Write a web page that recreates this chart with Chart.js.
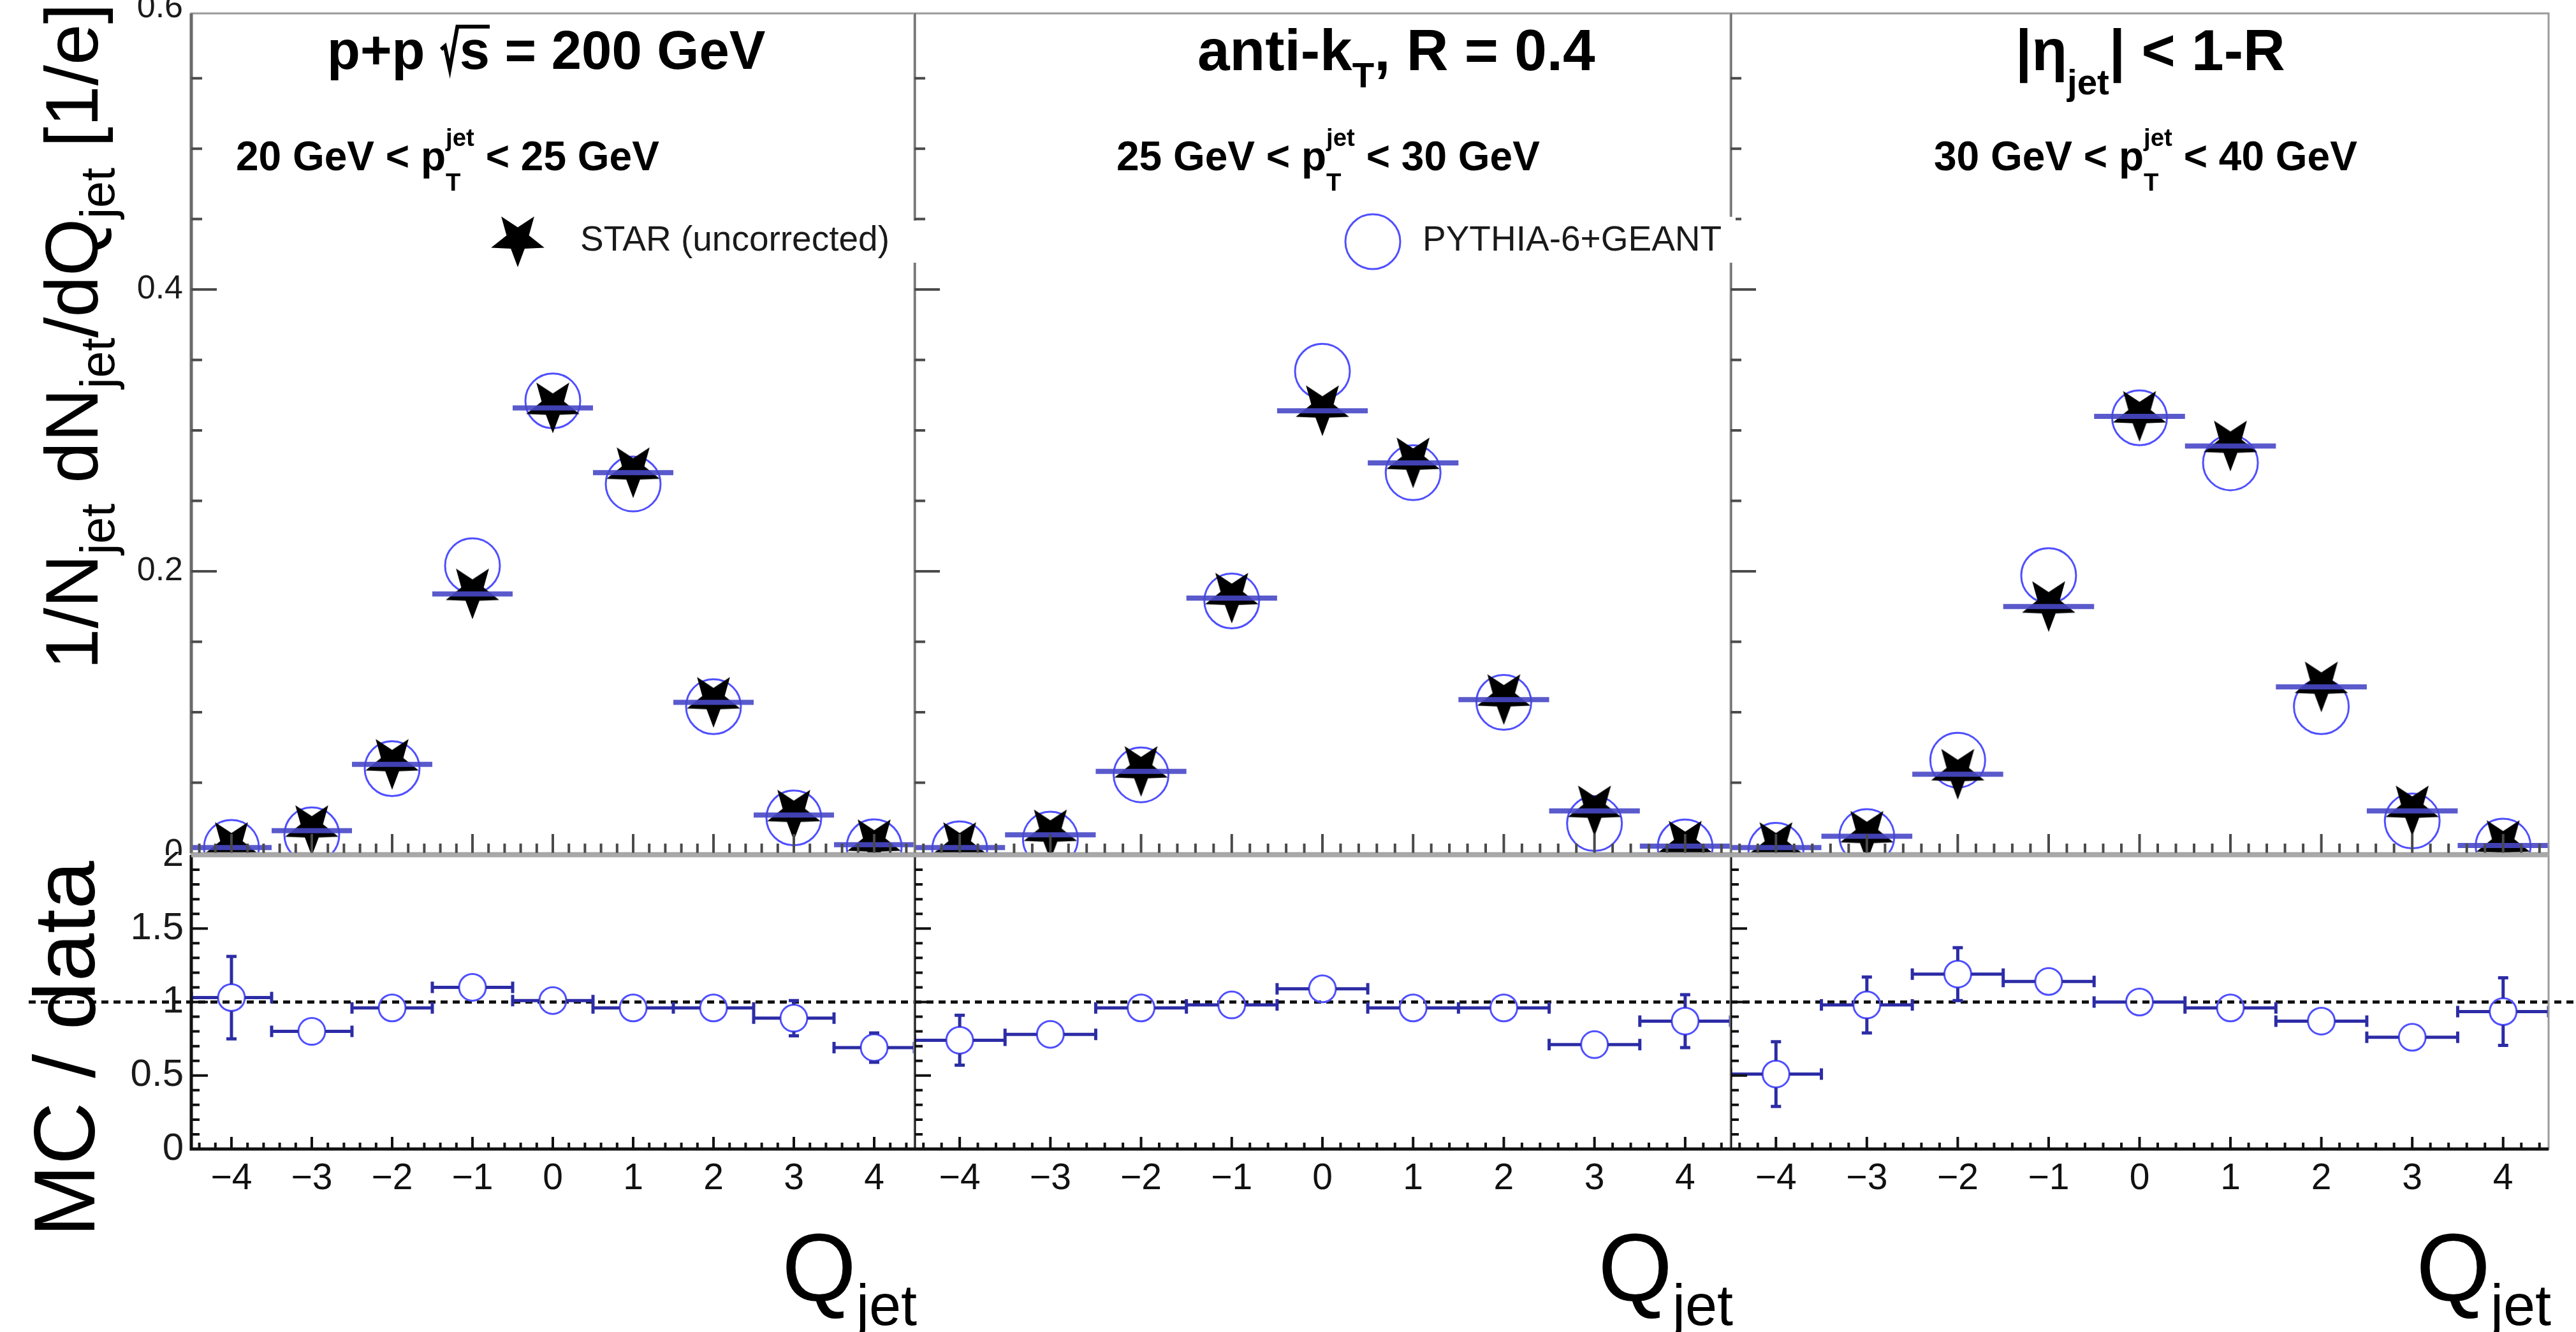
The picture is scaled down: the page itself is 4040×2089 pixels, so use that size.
<!DOCTYPE html>
<html>
<head>
<meta charset="utf-8">
<script src="https://cdn.jsdelivr.net/npm/chart.js@4.4.1/dist/chart.umd.min.js"></script>
<style>
  html, body { margin: 0; padding: 0; background: #fff; }
  body { width: 4040px; height: 2089px; position: relative; overflow: hidden; }
  canvas { position: absolute; }
</style>
</head>
<body>
<script>
const qBins = [-4, -3, -2, -1, 0, 1, 2, 3, 4];

// 1/N dN/dQ, STAR data (uncorrected)
const starPt20 = [0.004, 0.016, 0.063, 0.184, 0.316, 0.270, 0.107, 0.027, 0.006];
const starPt25 = [0.004, 0.013, 0.058, 0.181, 0.314, 0.277, 0.109, 0.030, 0.005];
const starPt30 = [0.004, 0.012, 0.056, 0.175, 0.310, 0.289, 0.118, 0.030, 0.0054];

// PYTHIA-6 + GEANT
const mcPt20 = [0.0041, 0.013, 0.060, 0.204, 0.321, 0.262, 0.104, 0.025, 0.0045];
const mcPt25 = [0.003, 0.010, 0.0556, 0.179, 0.342, 0.270, 0.107, 0.021, 0.0044];
const mcPt30 = [0.002, 0.0118, 0.066, 0.197, 0.309, 0.277, 0.104, 0.0228, 0.005];

// MC / data
const ratioPt20 = [1.03, 0.80, 0.96, 1.10, 1.01, 0.96, 0.96, 0.89, 0.69];
const ratioPt25 = [0.74, 0.78, 0.96, 0.98, 1.09, 0.96, 0.96, 0.71, 0.87];
const ratioPt30 = [0.51, 0.98, 1.19, 1.14, 1.00, 0.96, 0.87, 0.76, 0.935];
const ratioErrPt20 = [0.28, 0.03, 0.02, 0.02, 0.01, 0.01, 0.02, 0.12, 0.10];
const ratioErrPt25 = [0.17, 0.05, 0.02, 0.02, 0.01, 0.02, 0.03, 0.06, 0.18];
const ratioErrPt30 = [0.22, 0.19, 0.18, 0.05, 0.02, 0.02, 0.04, 0.06, 0.23];

const ptRanges = [[20, 25], [25, 30], [30, 40]];
const upperYTicks = [0, 0.2, 0.4, 0.6];
const lowerYTicks = [0, 0.5, 1, 1.5, 2];
const dataLabel = 'STAR (uncorrected)';
const mcLabel = 'PYTHIA-6+GEANT';

const FONT = '"Liberation Sans", Arial, Helvetica, sans-serif';
const BLUE = '#4f4fff';
const BAR_BLUE = 'rgba(72, 72, 200, 0.9)';
const NAVY = '#2c2ca6';

Chart.defaults.font.family = FONT;

// pad geometry (page pixels)
const columns = [
  { canvasL: 0, canvasR: 1434, frameL: 300, frameR: 1434 },
  { canvasL: 1434, canvasR: 2714, frameL: 1434, frameR: 2714 },
  { canvasL: 2714, canvasR: 4040, frameL: 2714, frameR: 3997 },
];
const upperBand = { canvasT: 0, canvasB: 1341, frameT: 21, frameB: 1338 };
const lowerBand = { canvasT: 1336, canvasB: 2089, frameT: 1341, frameB: 1802 };

const panels = [
  { star: starPt20, mc: mcPt20, ratio: ratioPt20, err: ratioErrPt20 },
  { star: starPt25, mc: mcPt25, ratio: ratioPt25, err: ratioErrPt25 },
  { star: starPt30, mc: mcPt30, ratio: ratioPt30, err: ratioErrPt30 },
];

// ---------- markers ----------
function starPath(g, cx, cy, R, r) {
  g.beginPath();
  for (let k = 0; k < 10; k++) {
    const a = Math.PI / 2 + k * Math.PI / 5; // first tip points down
    const rad = k % 2 ? r : R;
    g.lineTo(cx + rad * Math.cos(a), cy + rad * Math.sin(a));
  }
  g.closePath();
}

function makeStar(R) {
  const c = document.createElement('canvas');
  const size = Math.ceil(2 * R + 4);
  c.width = c.height = size;
  const g = c.getContext('2d');
  starPath(g, size / 2, size / 2 - 0.095 * R, R, 0.42 * R);
  g.fillStyle = '#000';
  g.fill();
  return c;
}
const starImg = makeStar(44);

// ---------- text with sub/superscripts ----------
function setFont(ctx, size, weight) {
  ctx.font = `${weight} ${size}px ${FONT}`;
}

// radical sign drawn as strokes, with the bar running over the argument
function drawRadical(ctx, x, y, size, argWidth) {
  ctx.save();
  ctx.strokeStyle = ctx.fillStyle;
  ctx.lineWidth = size * 0.07;
  ctx.lineJoin = 'miter';
  ctx.beginPath();
  ctx.moveTo(x + 0.02 * size, y - 0.36 * size);
  ctx.lineTo(x + 0.09 * size, y - 0.42 * size);
  ctx.lineTo(x + 0.18 * size, y);
  ctx.lineTo(x + 0.32 * size, y - 0.78 * size);
  ctx.lineTo(x + 0.36 * size + argWidth, y - 0.78 * size);
  ctx.stroke();
  ctx.restore();
}

function drawRich(ctx, parts, x, y, size, weight, dryRun) {
  let cx = x;
  for (const p of parts) {
    if (typeof p === 'string') {
      setFont(ctx, size, weight);
      if (!dryRun) ctx.fillText(p, cx, y);
      cx += ctx.measureText(p).width;
    } else if (p.sqrt) {
      setFont(ctx, size, weight);
      const rw = 0.36 * size;
      const sw = ctx.measureText(p.sqrt).width;
      if (!dryRun) {
        drawRadical(ctx, cx, y, size, sw);
        ctx.fillText(p.sqrt, cx + rw, y);
      }
      cx += rw + sw;
    } else {
      const s = size * (p.scale || 0.62);
      setFont(ctx, s, weight);
      let w = 0;
      if (p.sub) {
        if (!dryRun) ctx.fillText(p.sub, cx, y + size * (p.dy || 0.3));
        w = Math.max(w, ctx.measureText(p.sub).width);
      }
      if (p.sup) {
        if (!dryRun) ctx.fillText(p.sup, cx, y - size * (p.uy || 0.45));
        w = Math.max(w, ctx.measureText(p.sup).width);
      }
      cx += w;
    }
  }
  return cx - x;
}

const titleTexts = [
  { x: 513, y: 108, size: 85, parts: ['p+p ', { sqrt: 's' }, ' = 200 GeV'] },
  { x: 1878, y: 110, size: 91, parts: ['anti-k', { sub: 'T', dy: 0.3 }, ', R = 0.4'] },
  { x: 3161, y: 110, size: 91, parts: ['|\u03B7', { sub: 'jet', dy: 0.42 }, '| < 1-R'] },
];
const subtitleX = [370, 1751, 3033];

const legendEntries = [
  { box: [760, 346, 1440, 412], marker: 'star', mx: 812, my: 379, text: dataLabel, tx: 910 },
  { box: [2100, 340, 2722, 412], marker: 'circle', mx: 2153, my: 379, text: mcLabel, tx: 2231 },
];

function drawAnnotations(ctx) {
  ctx.textAlign = 'left';
  ctx.textBaseline = 'alphabetic';
  ctx.fillStyle = '#000';

  titleTexts.forEach(t => drawRich(ctx, t.parts, t.x, t.y, t.size, 'bold'));

  ptRanges.forEach(([lo, hi], i) => {
    drawRich(ctx, [`${lo} GeV < p`, { sub: 'T', sup: 'jet', dy: 0.5, uy: 0.6, scale: 0.6 }, ` < ${hi} GeV`],
      subtitleX[i], 267, 64, 'bold');
  });

  legendEntries.forEach(e => {
    ctx.fillStyle = '#fff';
    ctx.fillRect(e.box[0], e.box[1], e.box[2] - e.box[0], e.box[3] - e.box[1]);
    if (e.marker === 'star') {
      starPath(ctx, e.mx, e.my - 4, 44, 0.42 * 44);
      ctx.fillStyle = '#000';
      ctx.fill();
    } else {
      ctx.beginPath();
      ctx.arc(e.mx, e.my, 43, 0, Math.PI * 2);
      ctx.strokeStyle = BLUE;
      ctx.lineWidth = 3;
      ctx.stroke();
    }
    ctx.fillStyle = '#1a1a1a';
    setFont(ctx, 55, 'normal');
    ctx.fillText(e.text, e.tx, 393);
  });

  ctx.fillStyle = '#000';
  // y titles
  ctx.save();
  ctx.translate(153, 1050);
  ctx.rotate(-Math.PI / 2);
  const jet = { sub: 'jet', dy: 0.22, scale: 0.65 };
  drawRich(ctx, ['1/N', jet, ' dN', jet, '/dQ', jet, ' [1/e]'], 0, 0, 116, 'normal');
  ctx.restore();

  ctx.save();
  ctx.translate(148, 1940);
  ctx.rotate(-Math.PI / 2);
  drawRich(ctx, ['MC / data'], 0, 0, 136, 'normal');
  ctx.restore();

  // x titles, right aligned to each frame
  const qParts = ['Q', { sub: 'jet', dy: 0.25, scale: 0.6 }];
  columns.forEach(col => {
    const w = drawRich(ctx, qParts, 0, 0, 150, 'normal', true);
    drawRich(ctx, qParts, col.frameR + 4 - w, 2040, 150, 'normal');
  });
}

// ---------- frame, ticks, error bars ----------
function clipArea(ctx, a) {
  ctx.beginPath();
  ctx.rect(a.left, a.top, a.right - a.left, a.bottom - a.top);
  ctx.clip();
}

function drawDataBars(chart, values) {
  const { ctx, chartArea: a, scales: { x, y } } = chart;
  ctx.save();
  clipArea(ctx, a);
  ctx.strokeStyle = BAR_BLUE;
  ctx.lineWidth = 8;
  ctx.beginPath();
  qBins.forEach((q, i) => {
    const py = y.getPixelForValue(values[i]);
    ctx.moveTo(x.getPixelForValue(q - 0.5), py);
    ctx.lineTo(x.getPixelForValue(q + 0.5), py);
  });
  ctx.stroke();
  ctx.restore();
}

function drawRatioBars(chart, values, errors) {
  const { ctx, chartArea: a, scales: { x, y } } = chart;
  const r = 21;
  const unit = y.getPixelForValue(0) - y.getPixelForValue(1);
  ctx.save();
  clipArea(ctx, a);
  ctx.strokeStyle = NAVY;
  ctx.lineWidth = 5;
  ctx.beginPath();
  qBins.forEach((q, i) => {
    const px = x.getPixelForValue(q);
    const py = y.getPixelForValue(values[i]);
    const xl = x.getPixelForValue(q - 0.5);
    const xr = x.getPixelForValue(q + 0.5);
    ctx.moveTo(xl, py); ctx.lineTo(px - r, py);
    ctx.moveTo(px + r, py); ctx.lineTo(xr, py);
    ctx.moveTo(xl, py - 9); ctx.lineTo(xl, py + 9);
    ctx.moveTo(xr, py - 9); ctx.lineTo(xr, py + 9);
    const ey = errors[i] * unit;
    if (ey > r) {
      ctx.moveTo(px, py - r); ctx.lineTo(px, py - ey);
      ctx.moveTo(px, py + r); ctx.lineTo(px, py + ey);
      ctx.moveTo(px - 8, py - ey); ctx.lineTo(px + 8, py - ey);
      ctx.moveTo(px - 8, py + ey); ctx.lineTo(px + 8, py + ey);
    }
  });
  ctx.stroke();
  ctx.restore();
}

function drawUnityLine(chart, cfg) {
  const { ctx, scales: { y } } = chart;
  const py = y.getPixelForValue(1);
  ctx.save();
  ctx.strokeStyle = '#111';
  ctx.lineWidth = 5;
  ctx.setLineDash([11, 8]);
  ctx.beginPath();
  ctx.moveTo(cfg.unityFrom - cfg.canvasL, py);
  ctx.lineTo(cfg.unityTo - cfg.canvasL, py);
  ctx.stroke();
  ctx.restore();
}

function drawTicks(ctx, a, x, y, s) {
  ctx.beginPath();
  for (let k = 1; k * s.yMinor <= y.max + 1e-9; k++) {
    const py = y.getPixelForValue(k * s.yMinor);
    const len = k % s.yEvery === 0 ? s.yMajorLen : s.yMinorLen;
    ctx.moveTo(a.left, py); ctx.lineTo(a.left + len, py);
  }
  for (let k = -22; k <= 22; k++) {
    const px = x.getPixelForValue(k * 0.2);
    const len = k % 5 === 0 ? s.xMajorLen : s.xMinorLen;
    ctx.moveTo(px, a.bottom); ctx.lineTo(px, a.bottom - len);
  }
  ctx.stroke();
}

function drawUpperFrame(chart) {
  const { ctx, chartArea: a, scales: { x, y } } = chart;
  ctx.save();
  ctx.strokeStyle = '#9a9a9a';
  ctx.lineWidth = 3;
  ctx.strokeRect(a.left, a.top, a.right - a.left, a.bottom - a.top);
  ctx.strokeStyle = '#6a6a6a';
  ctx.lineWidth = 5;
  ctx.beginPath();
  ctx.moveTo(a.left, a.top); ctx.lineTo(a.left, a.bottom);
  ctx.stroke();
  ctx.strokeStyle = '#4a4a4a';
  ctx.lineWidth = 4;
  drawTicks(ctx, a, x, y, { yMinor: 0.05, yEvery: 4, yMajorLen: 40, yMinorLen: 17, xMajorLen: 30, xMinorLen: 15 });
  ctx.restore();
}

function drawLowerFrame(chart) {
  const { ctx, chartArea: a, scales: { x, y } } = chart;
  ctx.save();
  ctx.strokeStyle = '#9a9a9a';
  ctx.lineWidth = 3;
  ctx.strokeRect(a.left, a.top, a.right - a.left, a.bottom - a.top);
  ctx.strokeStyle = '#111';
  ctx.lineWidth = 5;
  ctx.beginPath();
  ctx.moveTo(a.left, a.top); ctx.lineTo(a.left, a.bottom); ctx.lineTo(a.right, a.bottom);
  ctx.stroke();
  ctx.lineWidth = 4;
  drawTicks(ctx, a, x, y, { yMinor: 0.1, yEvery: 5, yMajorLen: 26, yMinorLen: 13, xMajorLen: 19, xMinorLen: 10 });
  // pad border between the two rows
  ctx.strokeStyle = '#a8a8a8';
  ctx.lineWidth = 7;
  ctx.beginPath();
  ctx.moveTo(a.left, a.top); ctx.lineTo(a.right, a.top);
  ctx.stroke();
  ctx.restore();
}

function rootPlugin(cfg) {
  return {
    id: 'rootStyle',
    beforeDatasetsDraw(chart) {
      if (!cfg.upper) drawUnityLine(chart, cfg);
    },
    afterDatasetsDraw(chart) {
      if (cfg.upper) {
        drawDataBars(chart, cfg.panel.star);
        drawUpperFrame(chart);
      } else {
        drawRatioBars(chart, cfg.panel.ratio, cfg.panel.err);
        drawLowerFrame(chart);
      }
    },
    afterDraw(chart) {
      const ctx = chart.ctx;
      ctx.save();
      ctx.translate(-cfg.canvasL, -cfg.canvasT);
      drawAnnotations(ctx);
      ctx.restore();
    }
  };
}

const fmtQ = v => (v < 0 ? '\u2212' + Math.abs(v) : String(v));

// fixed axis sizes, no extra room for overhanging labels
const fixSize = (s, key, size) => {
  s[key] = size;
  s.paddingTop = s.paddingBottom = s.paddingLeft = s.paddingRight = 0;
};

function makePad(idx, upper) {
  const col = columns[idx];
  const band = upper ? upperBand : lowerBand;
  const panel = panels[idx];
  const w = col.canvasR - col.canvasL;
  const h = band.canvasB - band.canvasT;

  const canvas = document.createElement('canvas');
  canvas.width = w;
  canvas.height = h;
  canvas.style.left = col.canvasL + 'px';
  canvas.style.top = band.canvasT + 'px';
  canvas.style.width = w + 'px';
  canvas.style.height = h + 'px';
  document.body.appendChild(canvas);

  const showY = idx === 0;
  const showX = !upper;
  const yAxisW = showY ? col.frameL - col.canvasL : 0;
  const xAxisH = showX ? band.canvasB - band.frameB : 0;

  const points = vals => qBins.map((q, i) => ({ x: q, y: vals[i] }));
  const datasets = upper ? [
    { label: dataLabel, data: points(panel.star), pointStyle: starImg, pointRadius: 43, clip: 0 },
    { label: mcLabel, data: points(panel.mc), pointStyle: 'circle', pointRadius: 43,
      pointBorderWidth: 3, pointBorderColor: BLUE, pointBackgroundColor: 'rgba(0,0,0,0)', clip: 0 },
  ] : [
    { label: 'MC / data', data: points(panel.ratio), pointStyle: 'circle', pointRadius: 21,
      pointBorderWidth: 3, pointBorderColor: BLUE, pointBackgroundColor: 'rgba(0,0,0,0)', clip: 0 },
  ];

  const yTicks = upper ? upperYTicks : lowerYTicks;

  new Chart(canvas, {
    type: 'scatter',
    data: { datasets },
    options: {
      responsive: false,
      animation: false,
      devicePixelRatio: 1,
      events: [],
      layout: {
        autoPadding: false,
        padding: {
          left: col.frameL - col.canvasL - yAxisW,
          right: col.canvasR - col.frameR,
          top: band.frameT - band.canvasT,
          bottom: band.canvasB - band.frameB - xAxisH,
        }
      },
      plugins: { legend: { display: false }, tooltip: { enabled: false } },
      scales: {
        x: {
          type: 'linear',
          min: -4.5,
          max: 4.5,
          display: showX,
          afterBuildTicks: s => { s.ticks = qBins.map(v => ({ value: v })); },
          afterFit: s => fixSize(s, 'height', xAxisH),
          grid: { display: false, drawTicks: false },
          border: { display: false },
          ticks: { font: { size: 57 }, color: '#111', padding: 13, maxRotation: 0, autoSkip: false, callback: fmtQ }
        },
        y: {
          type: 'linear',
          min: 0,
          max: upper ? 0.596 : 2,
          display: showY,
          afterBuildTicks: s => { s.ticks = yTicks.map(v => ({ value: v })); },
          afterFit: s => fixSize(s, 'width', yAxisW),
          grid: { display: false, drawTicks: false },
          border: { display: false },
          ticks: {
            font: { size: upper ? 52 : 60 },
            color: '#1a1a1a',
            padding: upper ? 13 : 12,
            callback: v => (upper && v !== 0 ? v.toFixed(1) : String(v))
          }
        }
      }
    },
    plugins: [rootPlugin({
      upper, panel,
      canvasL: col.canvasL, canvasT: band.canvasT,
      unityFrom: idx === 0 ? 45 : col.canvasL,
      unityTo: col.canvasR
    })]
  });
}

[0, 1, 2].forEach(i => makePad(i, true));
[0, 1, 2].forEach(i => makePad(i, false));
</script>
</body>
</html>
